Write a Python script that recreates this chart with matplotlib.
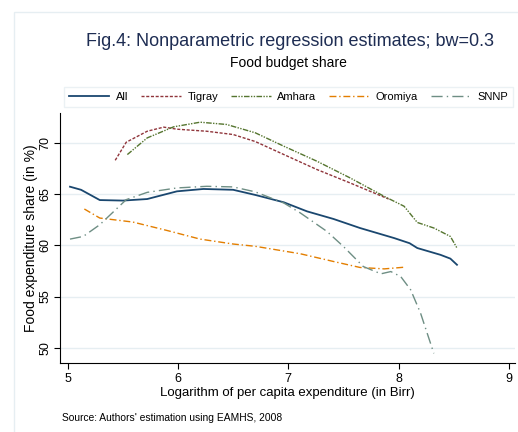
import matplotlib
matplotlib.use("Agg")
import matplotlib.pyplot as plt
from matplotlib.patches import Rectangle

plt.rcParams['font.family'] = ['Liberation Sans', 'DejaVu Sans']

# values
all_x = [5.02, 5.12, 5.29, 5.5, 5.72, 5.99, 6.23, 6.5, 6.7, 6.96, 7.17, 7.41, 7.65, 7.96, 8.1, 8.17, 8.38, 8.47, 8.53]
all_y = [65.7, 65.4, 64.4, 64.35, 64.5, 65.25, 65.48, 65.4, 64.9, 64.18, 63.3, 62.56, 61.68, 60.7, 60.2, 59.73, 59.07, 58.7, 58.1]

tigray_x = [5.43, 5.53, 5.72, 5.87, 5.99, 6.26, 6.5, 6.7, 6.96, 7.26, 7.56, 7.91]
tigray_y = [68.27, 70.03, 71.1, 71.5, 71.3, 71.1, 70.78, 70.1, 68.83, 67.37, 66.07, 64.5]

amhara_x = [5.54, 5.72, 5.96, 6.2, 6.44, 6.7, 6.96, 7.26, 7.56, 7.87, 8.05, 8.17, 8.32, 8.47, 8.53]
amhara_y = [68.83, 70.45, 71.53, 71.98, 71.76, 70.95, 69.64, 68.18, 66.56, 64.76, 63.8, 62.22, 61.68, 60.86, 59.73]

oromiya_x = [5.15, 5.29, 5.59, 5.9, 6.2, 6.5, 6.7, 7.11, 7.41, 7.65, 7.87, 8.06]
oromiya_y = [63.53, 62.65, 62.26, 61.44, 60.6, 60.12, 59.9, 59.17, 58.42, 57.84, 57.7, 57.87]

snnp_x = [5.02, 5.14, 5.29, 5.53, 5.72, 5.99, 6.26, 6.5, 6.7, 6.96, 7.11, 7.35, 7.5, 7.68, 7.84, 7.93, 8.02, 8.11, 8.2, 8.32]
snnp_y = [60.6, 60.86, 62.0, 64.44, 65.15, 65.58, 65.74, 65.68, 65.2, 64.11, 63.14, 61.35, 59.88, 57.93, 57.22, 57.44, 56.95, 55.66, 53.38, 49.48]

xticks = [5, 6, 7, 8, 9]
yticks = [50, 55, 60, 65, 70]

fig = plt.figure(figsize=(5.18, 4.32), dpi=100)
fig.patches.append(Rectangle((0.027, -0.1), 1.1, 1.072, transform=fig.transFigure,
                             fill=False, edgecolor='#e6eef2', linewidth=1.0))
ax = fig.add_axes([0.116, 0.16, 0.879, 0.579])

ax.plot(all_x, all_y, color='#1a476f', lw=1.3, label='All')
ax.plot(tigray_x, tigray_y, color='#90353b', lw=1.0, dashes=(2.2, 1.2), label='Tigray')
ax.plot(amhara_x, amhara_y, color='#55752f', lw=1.0, dashes=(4, 1, 1, 1, 1, 1), label='Amhara')
ax.plot(oromiya_x, oromiya_y, color='#e37e00', lw=1.0, dashes=(5, 2, 1, 2), label='Oromiya')
ax.plot(snnp_x, snnp_y, color='#6e8e84', lw=1.0, dashes=(8, 3, 1, 3), label='SNNP')

ax.set_xlim(4.93, 9.06)
ax.set_ylim(48.55, 72.9)
ax.set_xticks(xticks)
ax.set_yticks(yticks)
ax.tick_params(labelsize=9, length=4, width=0.8)
ax.tick_params(axis='y', labelrotation=90, pad=2)
for lbl in ax.get_yticklabels():
    lbl.set_va('center')
ax.grid(axis='y', color='#e6eef2', lw=1)
ax.set_axisbelow(True)
for s in ['top', 'right']:
    ax.spines[s].set_visible(False)
ax.set_xlabel('Logarithm of per capita expenditure (in Birr)', fontsize=9.5, labelpad=1)
ax.set_ylabel('Food expenditure share (in %)', fontsize=10, labelpad=1)

fig.text(0.559, 0.905, 'Fig.4: Nonparametric regression estimates; bw=0.3',
         ha='center', va='center', fontsize=13, color='#1e2d53')
fig.text(0.556, 0.855, 'Food budget share', ha='center', va='center', fontsize=10)
fig.text(0.12, 0.025, "Source: Authors' estimation using EAMHS, 2008", fontsize=7.4)

leg = fig.legend(loc='lower left', bbox_to_anchor=(64 / 518, 1 - 107 / 432, 449 / 518, 23 / 432),
                 mode='expand', ncol=5, fontsize=8, frameon=True, fancybox=False,
                 handlelength=3.6, handletextpad=0.6, borderpad=0.45, borderaxespad=0)
leg.get_frame().set_edgecolor('#e6eef2')
leg.get_frame().set_linewidth(1.0)

fig.savefig('out.png', dpi=100)
